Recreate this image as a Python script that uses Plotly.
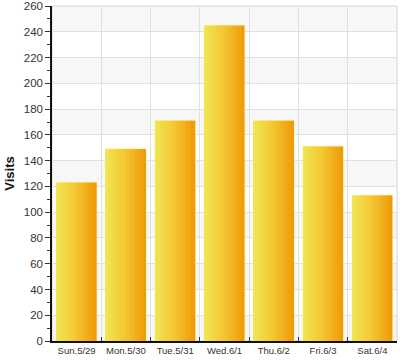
import plotly.graph_objects as go

categories = ["Sun.5/29", "Mon.5/30", "Tue.5/31", "Wed.6/1", "Thu.6/2", "Fri.6/3", "Sat.6/4"]
visits = [123, 149, 171, 245, 171, 151, 113]
y_ticks = list(range(0, 261, 20))

BAR_W = 0.81
N_STRIPS = 24
stops = [(0.0, (240, 230, 84)), (0.5, (244, 198, 50)), (1.0, (238, 154, 8))]


def interp(t):
    for (t0, c0), (t1, c1) in zip(stops[:-1], stops[1:]):
        if t0 <= t <= t1:
            f = (t - t0) / (t1 - t0)
            return "rgb(%d,%d,%d)" % tuple(round(a + (b - a) * f) for a, b in zip(c0, c1))
    return "rgb(%d,%d,%d)" % stops[-1][1]


fig = go.Figure()
# halo / base bar
fig.add_trace(go.Bar(x=categories, y=visits, width=BAR_W,
                     marker=dict(color="rgb(244,198,50)", line=dict(color="#fff4b8", width=1.5)),
                     hoverinfo="skip", showlegend=False))
sw = BAR_W / N_STRIPS
for i in range(N_STRIPS):
    t = (i + 0.5) / N_STRIPS
    fig.add_trace(go.Bar(x=categories, y=visits, width=sw * 1.05,
                         offset=-BAR_W / 2 + i * sw,
                         marker=dict(color=interp(t), line=dict(width=0)),
                         hoverinfo="skip", showlegend=False))

shapes = []
for lo in y_ticks[:-1]:
    if (lo // 20) % 2 == 0:
        shapes.append(dict(type="rect", xref="paper", yref="y", x0=0, x1=1, y0=lo, y1=lo + 20,
                           fillcolor="#f7f7f7", line=dict(width=0), layer="below"))
shapes.append(dict(type="rect", xref="paper", yref="paper", x0=0, x1=1, y0=0, y1=1,
                   line=dict(color="#d4d4d4", width=1), layer="below"))

fig.update_layout(
    width=400, height=364,
    margin=dict(l=52, r=3, t=6, b=23, autoexpand=False),
    paper_bgcolor="white", plot_bgcolor="white",
    barmode="overlay", bargap=0.19,
    shapes=shapes,
    font=dict(family="Liberation Sans, Arial, sans-serif", color="#333333"),
    xaxis=dict(
        tickson="boundaries", ticks="inside", ticklen=4, tickcolor="#333",
        showgrid=True, gridcolor="#e0e0e0", gridwidth=1,
        showline=True, linecolor="#111", linewidth=1.5,
        tickfont=dict(size=9.5, color="#333"),
        range=[-0.5, 6.5], fixedrange=True, automargin=False,
    ),
    yaxis=dict(
        range=[0, 260.05], tickvals=y_ticks,
        ticks="outside", ticklen=5, tickcolor="#333",
        minor=dict(dtick=10, ticks="outside", ticklen=3, tickcolor="#333", showgrid=False),
        showgrid=True, gridcolor="#e0e0e0", gridwidth=1,
        showline=True, linecolor="#111", linewidth=1.5,
        tickfont=dict(size=11.5, color="#333"),
        ticklabeloverflow="allow",
        title=dict(text="<b>Visits</b>", font=dict(size=13, color="#111"), standoff=6),
        zeroline=False, automargin=False,
    ),
)

fig.write_html("out.html", config={"displayModeBar": False},
               post_script="document.body.style.margin='0';document.body.style.overflow='hidden';")
